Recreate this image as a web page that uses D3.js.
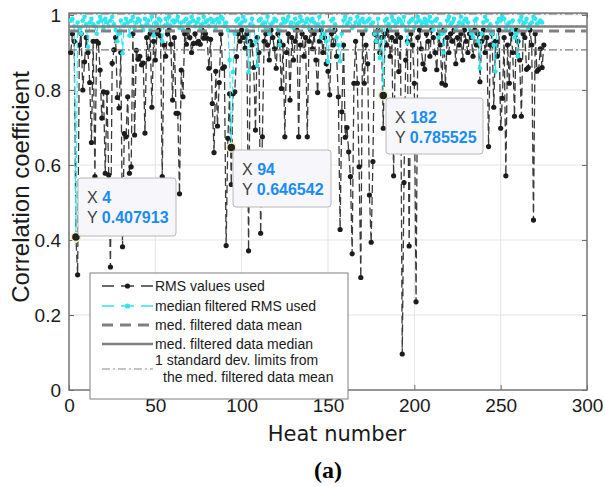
<!DOCTYPE html>
<html>
<head>
<meta charset="utf-8">
<script src="https://cdn.jsdelivr.net/npm/d3@7"></script>
<style>
  body { margin: 0; background: #fff; }
  svg { display: block; }
</style>
</head>
<body>
<div id="chart"></div>
<script>
//////// data
var xTicks = [0, 50, 100, 150, 200, 250, 300];
var yTicks = [0, 0.2, 0.4, 0.6, 0.8, 1];

// RMS values used (heat 1..275)
var rmsValues = [
  0.90, 0.95, 0.93, 0.408, 0.307, 0.92, 0.95, 0.80, 0.875, 0.94,
  0.90, 0.82, 0.66, 0.93, 0.569, 0.93, 0.925, 0.853, 0.725, 0.795,
  0.578, 0.793, 0.573, 0.328, 0.871, 0.907, 0.94, 0.78, 0.752, 0.90,
  0.382, 0.684, 0.675, 0.782, 0.578, 0.595, 0.95, 0.68, 0.906, 0.882,
  0.89, 0.867, 0.872, 0.685, 0.94, 0.883, 0.95, 0.754, 0.93, 0.88,
  0.95, 0.96, 0.944, 0.569, 0.92, 0.89, 0.95, 0.96, 0.922, 0.773,
  0.94, 0.738, 0.738, 0.523, 0.853, 0.782, 0.95, 0.922, 0.96, 0.94,
  0.90, 0.924, 0.95, 0.925, 0.93, 0.922, 0.96, 0.938, 0.95, 0.938,
  0.858, 0.935, 0.764, 0.633, 0.85, 0.704, 0.82, 0.95, 0.858, 0.862,
  0.385, 0.671, 0.79, 0.548, 0.79, 0.795, 0.889, 0.95, 0.93, 0.96,
  0.94, 0.912, 0.95, 0.371, 0.93, 0.92, 0.86, 0.693, 0.94, 0.90,
  0.418, 0.675, 0.93, 0.95, 0.92, 0.88, 0.96, 0.94, 0.91, 0.858,
  0.95, 0.93, 0.804, 0.92, 0.675, 0.90, 0.95, 0.773, 0.94, 0.88,
  0.93, 0.96, 0.675, 0.92, 0.95, 0.89, 0.94, 0.675, 0.93, 0.96,
  0.91, 0.95, 0.88, 0.793, 0.93, 0.96, 0.90, 0.94, 0.87, 0.85,
  0.787, 0.95, 0.92, 0.96, 0.89, 0.782, 0.428, 0.742, 0.92, 0.674,
  0.70, 0.635, 0.569, 0.363, 0.818, 0.93, 0.818, 0.595, 0.30, 0.95,
  0.818, 0.92, 0.87, 0.52, 0.394, 0.609, 0.95, 0.93, 0.96, 0.90,
  0.94, 0.698, 0.95, 0.92, 0.96, 0.89, 0.94, 0.571, 0.93, 0.95,
  0.849, 0.94, 0.096, 0.553, 0.88, 0.93, 0.384, 0.95, 0.92, 0.818,
  0.235, 0.94, 0.96, 0.91, 0.87, 0.855, 0.95, 0.93, 0.89, 0.96,
  0.94, 0.90, 0.854, 0.95, 0.92, 0.818, 0.96, 0.813, 0.94, 0.90,
  0.95, 0.93, 0.96, 0.87, 0.94, 0.92, 0.95, 0.88, 0.96, 0.93,
  0.90, 0.95, 0.94, 0.89, 0.96, 0.92, 0.95, 0.822, 0.93, 0.96,
  0.90, 0.94, 0.649, 0.92, 0.95, 0.754, 0.93, 0.89, 0.96, 0.698,
  0.778, 0.94, 0.571, 0.92, 0.818, 0.95, 0.90, 0.73, 0.96, 0.93,
  0.88, 0.73, 0.95, 0.94, 0.855, 0.86, 0.96, 0.92, 0.453, 0.95,
  0.85, 0.855, 0.91, 0.86, 0.92
];

// median filtered RMS used (heat 1..274)
var medValues = [
  0.985, 0.99, 0.97, 0.408, 0.98, 0.965, 0.95, 0.985, 0.995, 0.975,
  0.915, 0.98, 0.99, 0.975, 0.97, 0.95, 0.98, 0.995, 0.985, 0.965,
  0.99, 0.98, 0.97, 0.985, 0.995, 0.975, 0.96, 0.93, 0.95, 0.985,
  0.898, 0.975, 0.99, 0.98, 0.945, 0.985, 0.995, 0.965, 0.98, 0.99,
  0.985, 0.97, 0.96, 0.99, 0.975, 0.985, 0.96, 0.995, 0.945, 0.98,
  0.975, 0.99, 0.985, 0.93, 0.97, 0.99, 0.975, 0.995, 0.97, 0.985,
  0.98, 0.985, 0.995, 0.965, 0.98, 0.96, 0.985, 0.99, 0.975, 0.98,
  0.995, 0.985, 0.97, 0.98, 0.99, 0.965, 0.975, 0.995, 0.98, 0.985,
  0.97, 0.99, 0.98, 0.985, 0.965, 0.99, 0.98, 0.995, 0.99, 0.97,
  0.98, 0.96, 0.88, 0.646542, 0.848, 0.95, 0.985, 0.99, 0.975, 0.98,
  0.995, 0.985, 0.96, 0.848, 0.975, 0.99, 0.97, 0.93, 0.865, 0.985,
  0.99, 0.975, 0.98, 0.965, 0.995, 0.95, 0.975, 0.98, 0.99, 0.985,
  0.96, 0.92, 0.975, 0.99, 0.98, 0.985, 0.995, 0.97, 0.98, 0.965,
  0.99, 0.975, 0.98, 0.995, 0.985, 0.97, 0.98, 0.99, 0.965, 0.985,
  0.99, 0.98, 0.96, 0.975, 0.995, 0.94, 0.98, 0.95, 0.93, 0.875,
  0.96, 0.985, 0.99, 0.975, 0.94, 0.92, 0.877, 0.95, 0.985, 0.995,
  0.975, 0.98, 0.99, 0.965, 0.97, 0.98, 0.995, 0.975, 0.985, 0.99,
  0.98, 0.96, 0.985, 0.99, 0.975, 0.98, 0.95, 0.93, 0.99, 0.885,
  0.96, 0.785525, 0.985, 0.99, 0.975, 0.965, 0.995, 0.985, 0.97, 0.98,
  0.99, 0.985, 0.975, 0.995, 0.96, 0.925, 0.98, 0.985, 0.99, 0.965,
  0.98, 0.995, 0.985, 0.97, 0.98, 0.99, 0.975, 0.985, 0.995, 0.98,
  0.96, 0.985, 0.99, 0.94, 0.975, 0.95, 0.90, 0.96, 0.985, 0.995,
  0.975, 0.98, 0.99, 0.965, 0.97, 0.98, 0.995, 0.975, 0.985, 0.99,
  0.98, 0.96, 0.95, 0.94, 0.985, 0.99, 0.93, 0.858, 0.95, 0.98,
  0.995, 0.985, 0.96, 0.975, 0.95, 0.92, 0.849, 0.98, 0.99, 0.985,
  0.995, 0.99, 0.965, 0.975, 0.98, 0.96, 0.985, 0.94, 0.95, 0.89,
  0.985, 0.995, 0.975, 0.98, 0.99, 0.965, 0.975, 0.98, 0.995, 0.99,
  0.975, 0.98, 0.985, 0.98
];

// horizontal reference levels
var medianLevel = 0.969;
var meanLevel = 0.957;
var stdLower = 0.907;
var stdUpper = 1.003;

// data tips
var tipHeats = [4, 94, 182];
var tipValues = [0.407913, 0.646542, 0.785525];
var tipLabels = ["4", "94", "182"];

var legendLabels = ["RMS values used", "median filtered RMS used",
  "med. filtered data mean", "med. filtered data median",
  "1 standard dev. limits from", "the med. filtered data mean"];

//////// drawing
var W = 605, H = 487;
var L = 69, R = 587, T = 13.1, B = 390;

var svg = d3.select("#chart").append("svg")
  .attr("width", W).attr("height", H);

var x = d3.scaleLinear().domain([0, 300]).range([L, R]);
var y = d3.scaleLinear().domain([0, 1.005]).range([B, T]);

// grid
svg.append("g").selectAll("line").data(xTicks.slice(1, -1)).enter().append("line")
  .attr("x1", function(d) { return x(d); }).attr("x2", function(d) { return x(d); })
  .attr("y1", T).attr("y2", B)
  .attr("stroke", "#e3e3e3").attr("stroke-width", 1);
svg.append("g").selectAll("line").data(yTicks.slice(1)).enter().append("line")
  .attr("x1", L).attr("x2", R)
  .attr("y1", function(d) { return y(d); }).attr("y2", function(d) { return y(d); })
  .attr("stroke", "#e3e3e3").attr("stroke-width", 1);

// axes
var fmtY = function(d) { return d === 0 || d === 1 ? String(d) : d3.format(".1f")(d); };
var gx = svg.append("g").attr("transform", "translate(0," + B + ")")
  .call(d3.axisBottom(x).tickValues(xTicks).tickSize(-5).tickPadding(9));
var gy = svg.append("g").attr("transform", "translate(" + L + ",0)")
  .call(d3.axisLeft(y).tickValues(yTicks).tickFormat(fmtY).tickSize(-5).tickPadding(8));
var gt = svg.append("g").attr("transform", "translate(0," + T + ")")
  .call(d3.axisTop(x).tickValues(xTicks).tickSize(-5).tickFormat(""));
var gr = svg.append("g").attr("transform", "translate(" + R + ",0)")
  .call(d3.axisRight(y).tickValues(yTicks).tickSize(-5).tickFormat(""));

[gx, gy, gt, gr].forEach(function(g) {
  g.select(".domain").remove();
  g.selectAll(".tick line").attr("stroke", "#6e6e6e");
  g.selectAll("text")
    .style("font-family", "'Liberation Sans', Arial, sans-serif")
    .style("font-size", "19px")
    .attr("fill", "#1a1a1a");
});

svg.append("rect")
  .attr("x", L).attr("y", T).attr("width", R - L).attr("height", B - T)
  .attr("fill", "none").attr("stroke", "#737373").attr("stroke-width", 1.5);

// RMS series
var rmsData = rmsValues.map(function(v, i) { return {h: i + 1, v: v}; });
var medData = medValues.map(function(v, i) { return {h: i + 1, v: v}; });

var line = d3.line()
  .x(function(d) { return x(d.h); })
  .y(function(d) { return y(d.v); });

svg.append("path").datum(rmsData)
  .attr("d", line).attr("fill", "none")
  .attr("stroke", "#3a3a3a").attr("stroke-width", 1.3)
  .attr("stroke-dasharray", "8,4");

svg.append("g").selectAll("circle").data(rmsData).enter().append("circle")
  .attr("cx", function(d) { return x(d.h); })
  .attr("cy", function(d) { return y(d.v); })
  .attr("r", 2.6).attr("fill", "#1c1c1c");

// median filtered series
svg.append("path").datum(medData)
  .attr("d", line).attr("fill", "none")
  .attr("stroke", "#2ee6ee").attr("stroke-width", 1.1)
  .attr("stroke-dasharray", "7,3");

svg.append("g").selectAll("circle").data(medData).enter().append("circle")
  .attr("cx", function(d) { return x(d.h); })
  .attr("cy", function(d) { return y(d.v); })
  .attr("r", 2.3).attr("fill", "#2ee6ee");

// reference levels
function hline(v, color, width, dash) {
  svg.append("line")
    .attr("x1", L).attr("x2", R)
    .attr("y1", y(v)).attr("y2", y(v))
    .attr("stroke", color).attr("stroke-width", width)
    .attr("stroke-dasharray", dash);
}
hline(medianLevel, "#808080", 2.5, null);
hline(meanLevel, "#808080", 3, "10,6");
hline(stdLower, "#7a7a7a", 1.2, "8,3,2,3");
hline(stdUpper, "#7a7a7a", 1.2, "8,3,2,3");

// data tips
var tipBoxes = [
  {x: 78, y: 178, w: 98, h: 58},
  {x: 233, y: 150, w: 98, h: 57},
  {x: 386, y: 98, w: 97, h: 56}
];
tipHeats.forEach(function(hv, i) {
  var b = tipBoxes[i];
  svg.append("circle")
    .attr("cx", x(hv)).attr("cy", y(tipValues[i]))
    .attr("r", 4.5).attr("fill", "#222").attr("stroke", "#f3eeb4").attr("stroke-width", 1.5);
  svg.append("rect")
    .attr("x", b.x).attr("y", b.y).attr("width", b.w).attr("height", b.h)
    .attr("rx", 3).attr("fill", "#f7f7fb").attr("stroke", "#b8b8b8");
  var t1 = svg.append("text").attr("x", b.x + 9).attr("y", b.y + 25)
    .style("font-family", "'Liberation Sans', Arial, sans-serif").style("font-size", "16px");
  t1.append("tspan").attr("fill", "#404040").text("X ");
  t1.append("tspan").attr("fill", "#1a8cf5").attr("font-weight", "bold").text(tipLabels[i]);
  var t2 = svg.append("text").attr("x", b.x + 9).attr("y", b.y + 45)
    .style("font-family", "'Liberation Sans', Arial, sans-serif").style("font-size", "16px");
  t2.append("tspan").attr("fill", "#404040").text("Y ");
  t2.append("tspan").attr("fill", "#1a8cf5").attr("font-weight", "bold").text(String(tipValues[i]));
});

// legend
var lg = svg.append("g");
lg.append("rect").attr("x", 90).attr("y", 273).attr("width", 258).attr("height", 126)
  .attr("fill", "#fff").attr("stroke", "#7f7f7f").attr("stroke-width", 1);

var rows = [286, 306, 325, 344];
var lx1 = 102, lx2 = 153;
lg.append("line").attr("x1", lx1).attr("x2", lx2).attr("y1", rows[0]).attr("y2", rows[0])
  .attr("stroke", "#3a3a3a").attr("stroke-width", 1.3).attr("stroke-dasharray", "12,7,13,7,12");
lg.append("circle").attr("cx", (lx1 + lx2) / 2).attr("cy", rows[0]).attr("r", 2.6).attr("fill", "#1c1c1c");
lg.append("line").attr("x1", lx1).attr("x2", lx2).attr("y1", rows[1]).attr("y2", rows[1])
  .attr("stroke", "#2ee6ee").attr("stroke-width", 1.3).attr("stroke-dasharray", "12,7,13,7,12");
lg.append("circle").attr("cx", (lx1 + lx2) / 2).attr("cy", rows[1]).attr("r", 2.6).attr("fill", "#2ee6ee");
lg.append("line").attr("x1", lx1).attr("x2", lx2).attr("y1", rows[2]).attr("y2", rows[2])
  .attr("stroke", "#808080").attr("stroke-width", 3).attr("stroke-dasharray", "11,7");
lg.append("line").attr("x1", lx1).attr("x2", lx2).attr("y1", rows[3]).attr("y2", rows[3])
  .attr("stroke", "#808080").attr("stroke-width", 2.5);
lg.append("line").attr("x1", lx1).attr("x2", lx2).attr("y1", 369).attr("y2", 369)
  .attr("stroke", "#8a8a8a").attr("stroke-width", 1.2).attr("stroke-dasharray", "8,3,2,3");

var textY = [291, 311, 330, 349, 365, 382];
var textX = [155, 155, 155, 155, 155, 163];
legendLabels.forEach(function(s, i) {
  lg.append("text").attr("x", textX[i]).attr("y", textY[i])
    .style("font-family", "'Liberation Sans', Arial, sans-serif")
    .style("font-size", "14px").attr("fill", "#1a1a1a").text(s);
});

// labels
svg.append("text")
  .attr("transform", "translate(29," + 187 + ") rotate(-90)")
  .style("text-anchor", "middle")
  .style("font-family", "'Liberation Sans', Arial, sans-serif")
  .style("font-size", "24px").attr("fill", "#1a1a1a")
  .text("Correlation coefficient");

svg.append("text")
  .attr("x", 337).attr("y", 441)
  .style("text-anchor", "middle")
  .style("font-family", "'DejaVu Sans', sans-serif")
  .style("font-size", "21px").attr("fill", "#1a1a1a")
  .text("Heat number");

svg.append("text")
  .attr("x", 328).attr("y", 478)
  .style("text-anchor", "middle")
  .style("font-family", "'Liberation Serif', 'Times New Roman', serif")
  .style("font-weight", "bold")
  .style("font-size", "24px").attr("fill", "#000")
  .text("(a)");
</script>
</body>
</html>
